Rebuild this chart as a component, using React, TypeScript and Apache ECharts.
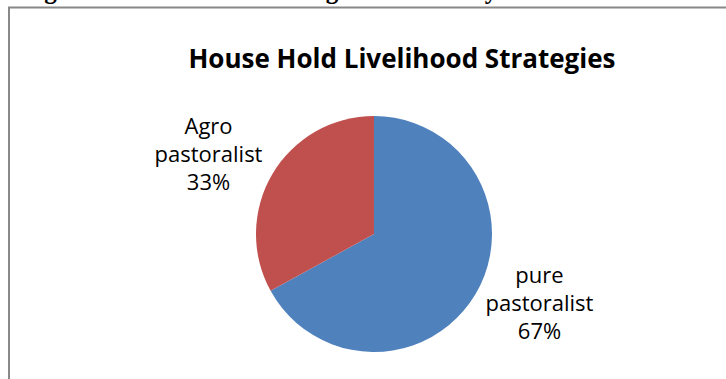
import React, { useEffect, useRef } from "react";
import * as echarts from "echarts";

const title = "House Hold Livelihood Strategies";
const caption = "Figure 4.1: Livelihood strategies in the study area";
const categories = ["pure pastoralist", "Agro pastoralist"];
const values = [67, 33];
const colors = ["#4F81BD", "#C0504D"];

export default function App() {
  const ref = useRef<HTMLDivElement>(null);
  useEffect(() => {
    document.body.style.margin = "0";
    const chart = echarts.init(ref.current!, null, { renderer: "svg" });
    chart.setOption({
      animation: false,
      backgroundColor: "#ffffff",
      title: {
        text: title,
        left: 397,
        textAlign: "center",
        top: 40,
        textStyle: { fontFamily: "Open Sans", fontWeight: "bold", fontSize: 26, color: "#000" },
      },
      graphic: [
        {
          type: "text",
          x: 22,
          y: 3,
          style: {
            text: caption,
            font: "bold 25px 'Liberation Serif', 'Times New Roman', serif",
            fill: "#000",
            verticalAlign: "bottom",
          },
          z: 10,
        },
        {
          type: "line",
          shape: { x1: 8, y1: 7.5, x2: 726, y2: 7.5 },
          style: { stroke: "#888", lineWidth: 2 },
          z: 11,
        },
        {
          type: "line",
          shape: { x1: 9, y1: 7, x2: 9, y2: 379 },
          style: { stroke: "#888", lineWidth: 2 },
        },
      ],
      series: [
        {
          type: "pie",
          center: [374, 234],
          radius: 118,
          startAngle: 90,
          clockwise: true,
          data: categories.map((c, i) => ({ name: c, value: values[i], itemStyle: { color: colors[i] } })),
          label: {
            show: true,
            position: "outside",
            fontFamily: "Open Sans",
            fontSize: 22,
            lineHeight: 28,
            color: "#000",
            formatter: (p: any) => p.name.replace(" ", "\n") + "\n" + Math.round(p.percent) + "%",
          },
          labelLine: { show: false, length: 15, length2: 46 },
          labelLayout: (p: any) => ({ align: "center", dy: p.dataIndex === 1 ? -13 : 0 }),
          emphasis: { disabled: true },
        },
      ],
    });
    return () => chart.dispose();
  }, []);
  return <div ref={ref} style={{ width: 726, height: 379 }} />;
}
